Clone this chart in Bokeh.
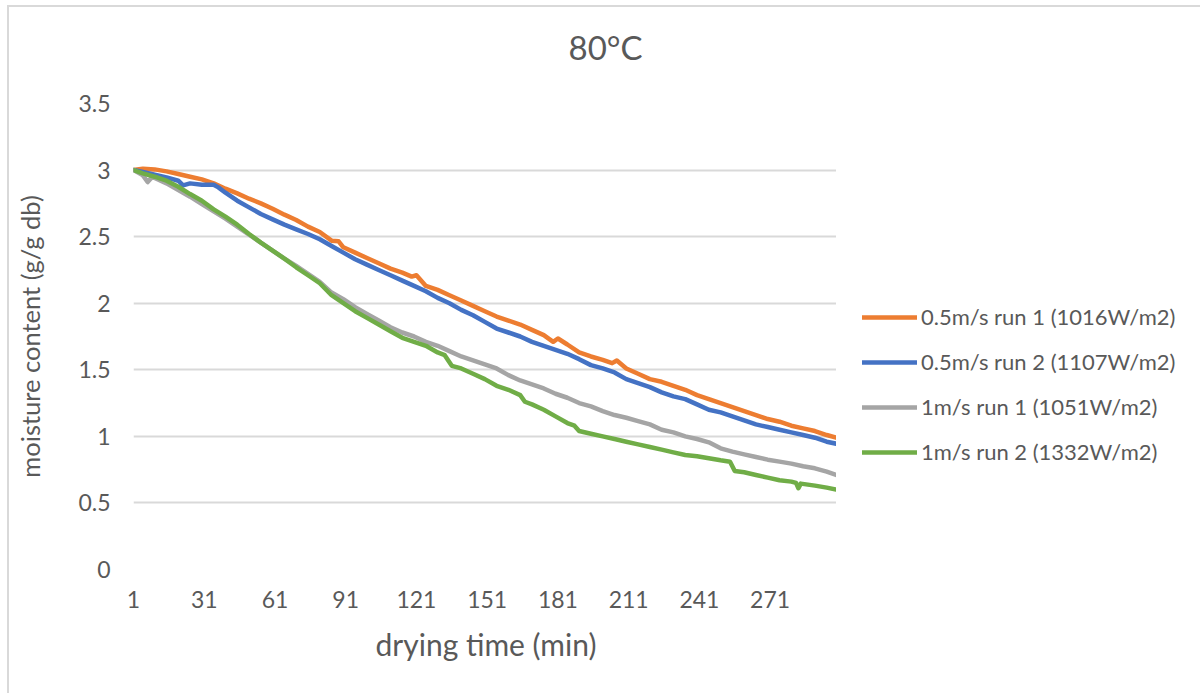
from bokeh.plotting import figure
from bokeh.layouts import row
from bokeh.models import (Range1d, FixedTicker, NumeralTickFormatter, Legend, LegendItem, Title)
from bokeh.embed import file_html
from bokeh.resources import INLINE

# ---- data ----
x_ticks = [1, 31, 61, 91, 121, 151, 181, 211, 241, 271]
y_ticks = [0, 0.5, 1, 1.5, 2, 2.5, 3, 3.5]

series_names = ["0.5m/s run 1 (1016W/m2)", "0.5m/s run 2 (1107W/m2)",
                "1m/s run 1 (1051W/m2)", "1m/s run 2 (1332W/m2)"]

t_orange = [1, 5, 10, 15, 20, 25, 30, 35, 40, 45, 50, 55, 60, 65, 70, 75, 80, 85, 88, 90, 95,
            100, 105, 110, 115, 119, 121, 125, 130, 135, 140, 145, 150, 155, 160, 165, 170, 175,
            179, 181, 185, 190, 195, 200, 204, 206, 210, 215, 220, 225, 230, 235, 240, 245, 250,
            255, 260, 265, 270, 275, 280, 285, 290, 295, 299]
v_orange = [3.00, 3.01, 3.005, 2.99, 2.97, 2.95, 2.93, 2.90, 2.86, 2.825, 2.785, 2.75, 2.71, 2.665,
            2.625, 2.575, 2.535, 2.47, 2.465, 2.42, 2.38, 2.34, 2.30, 2.26, 2.23, 2.20, 2.21, 2.13,
            2.10, 2.06, 2.02, 1.98, 1.94, 1.90, 1.87, 1.84, 1.80, 1.76, 1.71, 1.735, 1.69, 1.63,
            1.60, 1.575, 1.55, 1.57, 1.51, 1.47, 1.43, 1.41, 1.38, 1.35, 1.31, 1.28, 1.25, 1.22,
            1.19, 1.16, 1.13, 1.11, 1.08, 1.06, 1.04, 1.01, 0.99]

t_blue = [1, 5, 10, 15, 20, 22, 25, 30, 35, 37, 40, 45, 50, 55, 60, 65, 70, 75, 80, 85, 90, 95,
          100, 105, 110, 115, 120, 125, 130, 135, 140, 145, 150, 155, 160, 165, 170, 175, 180,
          185, 190, 195, 200, 205, 210, 215, 220, 225, 230, 235, 240, 245, 250, 255, 260, 265,
          270, 275, 280, 285, 290, 295, 299]
v_blue = [3.00, 2.985, 2.965, 2.945, 2.92, 2.885, 2.90, 2.89, 2.89, 2.87, 2.83, 2.77, 2.72, 2.67,
          2.63, 2.59, 2.555, 2.52, 2.48, 2.43, 2.38, 2.33, 2.29, 2.25, 2.21, 2.17, 2.13, 2.09,
          2.04, 2.00, 1.95, 1.91, 1.86, 1.81, 1.78, 1.75, 1.71, 1.68, 1.65, 1.62, 1.58, 1.535,
          1.51, 1.48, 1.43, 1.40, 1.37, 1.33, 1.30, 1.28, 1.24, 1.20, 1.18, 1.15, 1.12, 1.09,
          1.07, 1.05, 1.03, 1.01, 0.99, 0.96, 0.945]

t_grey = [1, 5, 7, 9, 10, 15, 20, 25, 30, 35, 40, 45, 50, 55, 60, 65, 70, 75, 80, 85, 90, 95,
          100, 105, 110, 115, 120, 125, 130, 135, 140, 145, 150, 155, 160, 165, 170, 175, 180,
          185, 190, 195, 200, 205, 210, 215, 220, 225, 230, 235, 240, 245, 250, 255, 260, 265,
          270, 275, 280, 285, 290, 295, 299]
v_grey = [3.00, 2.96, 2.91, 2.95, 2.94, 2.90, 2.85, 2.80, 2.745, 2.69, 2.635, 2.575, 2.515, 2.455,
          2.395, 2.335, 2.28, 2.22, 2.16, 2.08, 2.03, 1.97, 1.92, 1.87, 1.82, 1.78, 1.75, 1.71,
          1.68, 1.64, 1.60, 1.57, 1.54, 1.51, 1.46, 1.42, 1.39, 1.36, 1.32, 1.29, 1.25, 1.225,
          1.19, 1.16, 1.14, 1.115, 1.09, 1.05, 1.03, 1.00, 0.98, 0.955, 0.91, 0.885, 0.865,
          0.845, 0.825, 0.81, 0.795, 0.775, 0.76, 0.735, 0.71]

t_green = [1, 5, 10, 15, 20, 25, 30, 35, 40, 45, 50, 55, 60, 65, 70, 75, 80, 85, 90, 95, 100,
           105, 110, 115, 120, 125, 130, 133, 136, 140, 145, 150, 155, 160, 165, 167, 170, 175,
           180, 185, 188, 190, 195, 200, 205, 210, 215, 220, 225, 230, 235, 240, 245, 250, 254,
           256, 260, 265, 270, 275, 280, 282, 283, 284, 290, 295, 299]
v_green = [3.00, 2.975, 2.95, 2.92, 2.875, 2.82, 2.77, 2.705, 2.65, 2.59, 2.52, 2.455, 2.395,
           2.335, 2.27, 2.21, 2.15, 2.06, 2.00, 1.94, 1.89, 1.84, 1.79, 1.74, 1.71, 1.68, 1.63,
           1.61, 1.53, 1.51, 1.47, 1.43, 1.38, 1.35, 1.31, 1.26, 1.24, 1.20, 1.15, 1.10, 1.08,
           1.04, 1.02, 1.00, 0.98, 0.96, 0.94, 0.92, 0.90, 0.88, 0.86, 0.85, 0.835, 0.82, 0.81,
           0.74, 0.73, 0.71, 0.69, 0.67, 0.66, 0.65, 0.61, 0.645, 0.63, 0.615, 0.60]

colors = ["#ED7D31", "#4472C4", "#A5A5A5", "#70AD47"]
all_t = [t_orange, t_blue, t_grey, t_green]
all_v = [v_orange, v_blue, v_grey, v_green]
FONT = "Lato"
TXT = "#595959"
BORDER = "2px solid #d9d9d9"

# ---- main chart (window x 7..838, border included) ----
p = figure(width=829, height=686, x_range=Range1d(1, 300), y_range=Range1d(0, 3.5),
           output_backend="svg", toolbar_location=None,
           min_border_left=124, min_border_right=0, min_border_top=96, min_border_bottom=124,
           title="80°C")
p.styles = {"border-left": BORDER}
p.outline_line_color = None
p.background_fill_color = "white"
p.border_fill_color = "white"

p.title.align = "left"
p.title.offset = 435
p.title.vertical_align = "middle"
p.title.text_font = FONT
p.title.text_font_size = "33px"
p.title.text_color = TXT
p.title.text_font_style = "normal"
# empty spacer between the frame and the title, to lift the title
p.add_layout(Title(text=" ", text_font_size="17px", standoff=10), "above")

p.xaxis.ticker = FixedTicker(ticks=x_ticks)
p.yaxis.ticker = FixedTicker(ticks=y_ticks)
p.yaxis.formatter = NumeralTickFormatter(format="0.[0]")
for ax in (p.xaxis[0], p.yaxis[0]):
    ax.axis_line_color = None
    ax.major_tick_line_color = None
    ax.minor_tick_line_color = None
    ax.major_label_text_font = FONT
    ax.major_label_text_font_size = "23px"
    ax.major_label_text_color = TXT
    ax.axis_label_text_font = FONT
    ax.axis_label_text_color = TXT
    ax.axis_label_text_font_style = "normal"
p.xaxis.major_label_standoff = 15
p.yaxis.major_label_standoff = 17
p.xaxis.axis_label = "drying time (min)"
p.xaxis.axis_label_text_font_size = "30px"
p.xaxis.axis_label_standoff = 15
p.yaxis.axis_label = "moisture content (g/g db)"
p.yaxis.axis_label_text_font_size = "25.5px"
p.yaxis.axis_label_standoff = 30

p.xgrid.grid_line_color = None
p.ygrid.ticker = FixedTicker(ticks=y_ticks)
p.ygrid.grid_line_color = "#d9d9d9"
p.ygrid.grid_line_width = 2

for t, v, c in zip(all_t, all_v, colors):
    p.line(t, v, line_color=c, line_width=4.5, line_join="round", line_cap="round")

# ---- legend panel (window x 838..); series drawn off-range, only the legend shows ----
q = figure(width=370, height=686, x_range=Range1d(1000, 1001), y_range=Range1d(1000, 1001),
           output_backend="svg", toolbar_location=None,
           x_axis_type=None, y_axis_type=None,
           min_border_left=0, min_border_right=0, min_border_top=0, min_border_bottom=0)
q.outline_line_color = None
q.grid.visible = False
q.background_fill_color = "white"
q.border_fill_color = "white"

items = []
for t, v, c, n in zip(all_t, all_v, colors, series_names):
    r = q.line(t, v, line_color=c, line_width=4.5, line_cap="round")
    items.append(LegendItem(label=n, renderers=[r]))

legend = Legend(items=items, location=(26, 104))
legend.glyph_width = 55
legend.glyph_height = 24
legend.label_height = 24
legend.spacing = 18
legend.label_standoff = 4
legend.padding = 0
legend.margin = 0
legend.border_line_color = None
legend.background_fill_alpha = 0
legend.label_text_font = FONT
legend.label_text_font_size = "22px"
legend.label_text_color = TXT
q.add_layout(legend)

layout = row(p, q, margin=(5, 0, 0, 7), styles={"border-top": BORDER})
open("out.html", "w").write(file_html(layout, INLINE))
